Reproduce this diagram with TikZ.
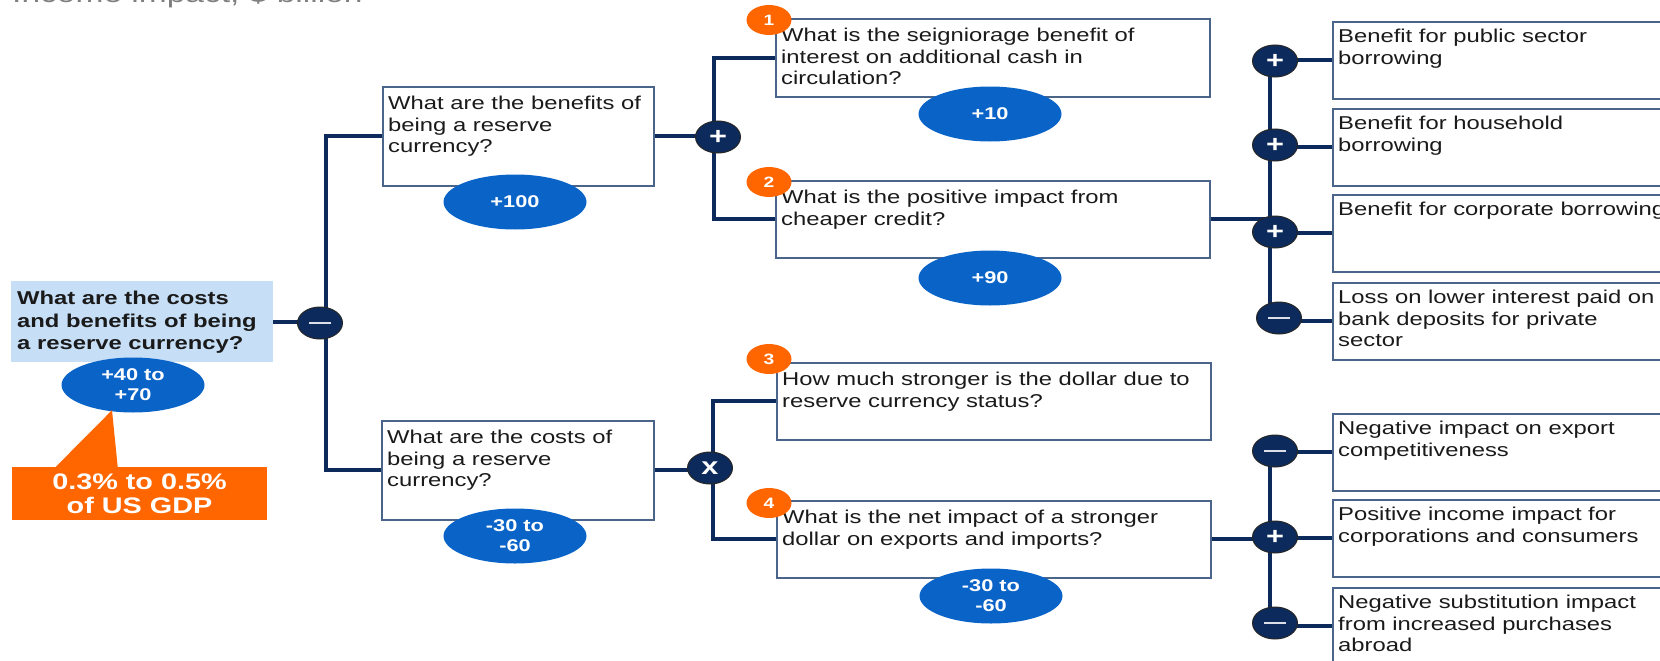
\documentclass[tikz,border=0pt]{standalone}
\usepackage{fontspec}
\setmainfont{Liberation Sans}[FakeStretch=1.28]
\usetikzlibrary{shapes.geometric}

\definecolor{navy}{HTML}{0C2A5C}
\definecolor{boxedge}{HTML}{4B648A}
\definecolor{valblue}{HTML}{0A64C8}
\definecolor{callorange}{HTML}{FF6600}
\definecolor{rootblue}{HTML}{C6DEF6}
\definecolor{txt}{HTML}{1A1A1A}
\definecolor{titlegray}{HTML}{808080}

\tikzset{
    qbox/.style={draw=boxedge, line width=1.6pt, fill=white, anchor=north west, inner sep=0pt},
    rootbox/.style={fill=rootblue, anchor=north west, inner sep=0pt},
    qtext/.style={anchor=north west, align=left, inner xsep=6pt, inner ysep=10pt, text=txt, font=\fontsize{18.6}{21.5}\selectfont},
    roottext/.style={qtext, font=\fontsize{18.6}{22.5}\selectfont\bfseries},
    val/.style={ellipse, fill=valblue, text=white, minimum width=143, minimum height=55, inner sep=0pt, align=center, font=\fontsize{17}{20}\selectfont\bfseries},
    badge/.style={ellipse, fill=callorange, text=white, minimum width=45, minimum height=30, inner sep=0pt, font=\fontsize{15}{15}\selectfont\bfseries},
    op/.style={ellipse, draw=black!85, line width=1pt, fill=navy, text=white, minimum width=45, minimum height=32, inner sep=0pt, font=\fontsize{24}{24}\selectfont\bfseries},
    callout/.style={fill=callorange, text=white, align=center, inner sep=0pt, font=\fontsize{22.5}{24}\selectfont\bfseries},
    link/.style={draw=navy, line width=4pt}
}
\newcommand{\minusbar}{\textcolor{white!85!navy}{\rule{22pt}{2pt}}}

\begin{document}
\begin{tikzpicture}[x=1pt, y=-1pt]
    \useasboundingbox (0,0) rectangle (1660,661);
    \clip (0,0) rectangle (1660,661);

    \node[anchor=base west, inner sep=0pt, text=titlegray, font=\fontsize{26.2}{30}\selectfont] (title) at (12,3) {Income impact, \$ billion};

    % root question and total
    \node[rootbox, minimum width=262, minimum height=81, label={[roottext]north west:{What are the costs\\and benefits of being\\a reserve currency?}}] (root) at (11,281) {};
    \node[callout, minimum width=255, minimum height=53] (gdp) at (139.5,493.5) {0.3\% to 0.5\%\\of US GDP};

    % first split
    \node[qbox, minimum width=271, minimum height=99, label={[qtext]north west:{What are the benefits of\\being a reserve\\currency?}}] (ben) at (382,86) {};
    \node[qbox, minimum width=272, minimum height=99, label={[qtext]north west:{What are the costs of\\being a reserve\\currency?}}] (cost) at (381,420) {};

    % second level
    \node[qbox, minimum width=434, minimum height=78, label={[qtext]north west:{What is the seigniorage benefit of\\interest on additional cash in\\circulation?}}] (q1) at (775,18) {};
    \node[qbox, minimum width=434, minimum height=77, label={[qtext]north west:{What is the positive impact from\\cheaper credit?}}] (q2) at (775,180) {};
    \node[qbox, minimum width=434, minimum height=77, label={[qtext]north west:{How much stronger is the dollar due to\\reserve currency status?}}] (q3) at (776,362) {};
    \node[qbox, minimum width=434, minimum height=77, label={[qtext]north west:{What is the net impact of a stronger\\dollar on exports and imports?}}] (q4) at (776,500) {};

    % drivers
    \node[qbox, minimum width=380, minimum height=77, label={[qtext, inner ysep=8pt]north west:{Benefit for public sector\\borrowing}}] (ra) at (1332,21) {};
    \node[qbox, minimum width=380, minimum height=77, label={[qtext, inner ysep=8pt]north west:{Benefit for household\\borrowing}}] (rb) at (1332,108) {};
    \node[qbox, minimum width=380, minimum height=77, label={[qtext, inner ysep=8pt]north west:{Benefit for corporate borrowing}}] (rc) at (1332,194) {};
    \node[qbox, minimum width=380, minimum height=77, label={[qtext, inner ysep=8pt]north west:{Loss on lower interest paid on\\bank deposits for private\\sector}}] (rd) at (1332,282) {};
    \node[qbox, minimum width=380, minimum height=77, label={[qtext, inner ysep=8pt]north west:{Negative impact on export\\competitiveness}}] (re) at (1332,413) {};
    \node[qbox, minimum width=380, minimum height=77, label={[qtext, inner ysep=8pt]north west:{Positive income impact for\\corporations and consumers}}] (rf) at (1332,499) {};
    \node[qbox, minimum width=380, minimum height=76, label={[qtext, inner ysep=8pt]north west:{Negative substitution impact\\from increased purchases\\abroad}}] (rg) at (1332,587) {};

    % tree lines
    \draw[link] (root.east) -- ++(53,0);
    \draw[link] (ben.west) -- ++(-56,0) |- (cost.west);
    \draw[link] (ben.east) -- ++(61,0);
    \draw[link] (cost.east) -- ++(60,0);
    \draw[link] (q1.west) -- ++(-61,0) |- (q2.west);
    \draw[link] (q3.west) -- ++(-63,0) |- (q4.west);
    \draw[link] (q2.east) -- ++(61,0);
    \draw[link] (q4.east) -- ++(60,0);
    \draw[link] (ra.west) -- ++(-62,0) |- (rd.west);
    \draw[link] (rb.west) -- ++(-62,0);
    \draw[link] (rc.west) -- ++(-62,0);
    \draw[link] (re.west) -- ++(-62,0) |- (rg.west);
    \draw[link] (rf.west) -- ++(-62,0);

    % operators
    \node[op] (rootop) at (320,323) {\minusbar};
    \node[op] (benop) at (718,137) {+};
    \node[op] (costop) at (710,468) {x};
    \node[op] (pa) at (1275,61) {+};
    \node[op] (pb) at (1275,145) {+};
    \node[op] (pc) at (1275,232) {+};
    \node[op] (pd) at (1279,318) {\minusbar};
    \node[op] (pe) at (1275,451) {\minusbar};
    \node[op] (pf) at (1275,537) {+};
    \node[op] (pg) at (1275,623) {\minusbar};

    % values
    \node[val] (v0) at (133,385) {+40 to\\+70};
    \node[val] (vben) at (515,202) {+100};
    \node[val] (vcost) at (515,536) {-30 to\\-60};
    \node[val] (v1) at (990,114) {+10};
    \node[val] (v2) at (990,278) {+90};
    \node[val] (v4) at (991,596) {-30 to\\-60};
    \fill[callorange] ([xshift=43pt, yshift=-1pt]gdp.north west) -- ([xshift=-21pt, yshift=2.5pt]v0.south) -- ([xshift=106pt, yshift=-1pt]gdp.north west) -- cycle;

    % numbered badges
    \node[badge] (b1) at (769,20) {1};
    \node[badge] (b2) at (769,182) {2};
    \node[badge] (b3) at (769,359) {3};
    \node[badge] (b4) at (769,503) {4};
\end{tikzpicture}
\end{document}
